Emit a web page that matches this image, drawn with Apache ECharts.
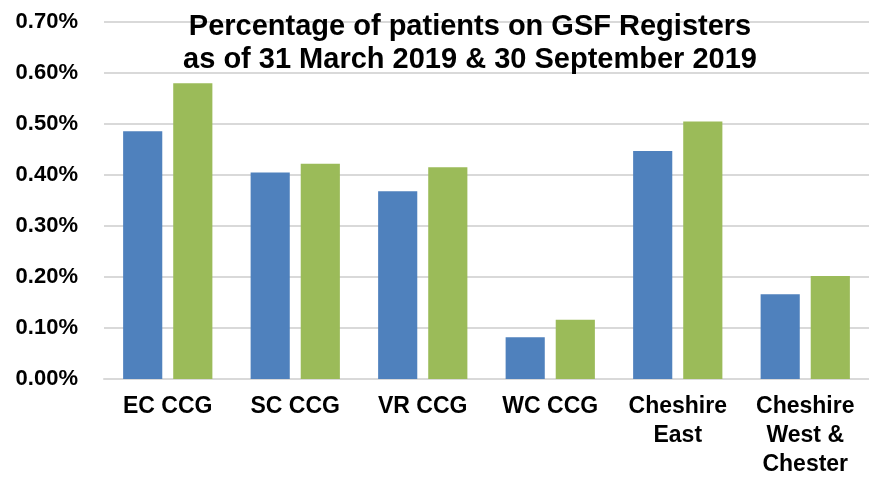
<!DOCTYPE html>
<html>
<head>
<meta charset="utf-8">
<script src="https://cdn.jsdelivr.net/npm/echarts@6/dist/echarts.min.js"></script>
<style>
  html, body { margin: 0; padding: 0; background: #fff; }
  #chart { width: 869px; height: 479px; }
</style>
</head>
<body>
<div id="chart"></div>
<script>
// categories and values (percent of patients)
const categories = ['EC CCG', 'SC CCG', 'VR CCG', 'WC CCG', 'Cheshire\nEast', 'Cheshire\nWest &\nChester']
const march2019 = [0.486, 0.405, 0.368, 0.082, 0.447, 0.166]
const september2019 = [0.580, 0.422, 0.415, 0.116, 0.505, 0.202]
const yTicks = ['0.00%', '0.10%', '0.20%', '0.30%', '0.40%', '0.50%', '0.60%', '0.70%']

const chart = echarts.init(document.getElementById('chart'), null, { renderer: 'canvas' })

const font = 'Liberation Sans, Arial, sans-serif'

chart.setOption({
  animation: false,
  title: {
    text: 'Percentage of patients on GSF Registers\nas of 31 March 2019 & 30 September 2019',
    left: 470,
    top: 10,
    textAlign: 'center',
    padding: 0,
    textStyle: {
      fontFamily: font,
      fontWeight: 'bold',
      fontSize: 29,
      lineHeight: 33,
      color: '#000'
    }
  },
  grid: {
    left: 104,
    right: -3,
    top: 22,
    bottom: 94,
    containLabel: false
  },
  xAxis: {
    type: 'category',
    data: categories,
    axisTick: { show: false },
    axisLine: { lineStyle: { color: '#d9d9d9', width: 2 } },
    axisLabel: {
      interval: 0,
      margin: 13,
      fontFamily: font,
      fontWeight: 'bold',
      fontSize: 23,
      lineHeight: 29,
      color: '#000'
    }
  },
  yAxis: {
    type: 'value',
    min: 0,
    max: 0.7,
    interval: 0.1,
    axisLine: { show: false },
    axisTick: { show: false },
    splitLine: { lineStyle: { color: '#d9d9d9', width: 2 } },
    axisLabel: {
      margin: 26,
      fontFamily: font,
      fontWeight: 'bold',
      fontSize: 22,
      color: '#000',
      formatter: v => yTicks[Math.round(v * 10)]
    }
  },
  series: [{
    name: '31 March 2019',
    type: 'bar',
    data: march2019,
    barGap: '28%',
    barCategoryGap: '30%',
    itemStyle: { color: '#4f81bd' }
  }, {
    name: '30 September 2019',
    type: 'bar',
    data: september2019,
    itemStyle: { color: '#9bbb59' }
  }]
})
</script>
</body>
</html>
